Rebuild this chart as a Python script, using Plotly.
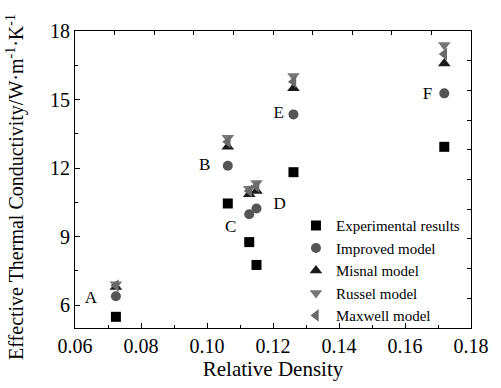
import plotly.graph_objects as go

density = [0.0724, 0.1063, 0.1128, 0.1150, 0.1262, 0.1719]
experimental = [5.49, 10.45, 8.76, 7.76, 11.82, 12.93]
improved = [6.39, 12.10, 9.98, 10.23, 14.35, 15.27]
misnal = [6.80, 12.93, 10.85, 11.00, 15.49, 16.58]
russel = [6.92, 13.33, 11.10, 11.35, 16.03, 17.39]
maxwell = [6.86, 13.15, 11.00, 11.20, 15.78, 16.99]

point_labels = ["A", "B", "C", "D", "E", "F"]
label_x = [0.0648, 0.0993, 0.1072, 0.1220, 0.1217, 0.1668]
label_y = [6.27, 12.10, 9.38, 10.41, 14.40, 15.23]

FONT = "Liberation Serif, Times New Roman, serif"

fig = go.Figure()
series = [
    ("Experimental results", experimental, "square", "#000000", 10),
    ("Improved model", improved, "circle", "#555555", 10),
    ("Misnal model", misnal, "triangle-up", "#1a1a1a", 11),
    ("Russel model", russel, "triangle-down", "#777777", 11),
    ("Maxwell model", maxwell, "triangle-left", "#6a6a6a", 11),
]
for name, vals, sym, col, sz in series:
    fig.add_trace(go.Scatter(
        x=density, y=vals, mode="markers", name=name,
        marker=dict(symbol=sym, color=col, size=sz, line=dict(width=0)),
    ))

fig.add_trace(go.Scatter(
    x=label_x, y=label_y, mode="text", text=point_labels,
    textfont=dict(family=FONT, size=17, color="black"),
    showlegend=False, hoverinfo="skip",
))

# invisible trace for the secondary (top/right) tick-only axes
fig.add_trace(go.Scatter(x=[0], y=[0], xaxis="x2", yaxis="y2", mode="markers",
                         marker=dict(opacity=0), showlegend=False, hoverinfo="skip"))

fig.add_annotation(
    text="Effective Thermal Conductivity/W·m<sup>-1</sup>·K<sup>-1</sup>",
    xref="paper", yref="paper", x=-0.149, y=0.475, xanchor="center", yanchor="middle",
    textangle=-90, showarrow=False, font=dict(family=FONT, size=20, color="black"),
)

fig.update_layout(
    width=501, height=388,
    margin=dict(l=75, r=24, t=31, b=60),
    paper_bgcolor="white", plot_bgcolor="white",
    font=dict(family=FONT, size=20, color="black"),
    showlegend=True,
    legend=dict(
        x=0.558, y=0.40, xanchor="left", yanchor="top",
        bgcolor="rgba(0,0,0,0)", font=dict(family=FONT, size=15),
        itemwidth=30, tracegroupgap=0,
    ),
    xaxis=dict(
        range=[0.06, 0.18], dtick=0.02, tick0=0.06, tickformat=".2f",
        ticks="inside", ticklen=5, tickwidth=1, tickcolor="black",
        minor=dict(dtick=0.01, ticks="inside", ticklen=3, tickcolor="black"),
        showline=True, linecolor="black", linewidth=1, showgrid=False, zeroline=False,
        title=dict(text="Relative Density", font=dict(family=FONT, size=21), standoff=4),
        tickfont=dict(family=FONT, size=20),
    ),
    yaxis=dict(
        range=[5, 18], tickvals=[6, 9, 12, 15, 18],
        ticks="inside", ticklen=5, tickwidth=1, tickcolor="black",
        minor=dict(tickvals=[7.5, 10.5, 13.5, 16.5], ticks="inside", ticklen=3, tickcolor="black"),
        showline=True, linecolor="black", linewidth=1, showgrid=False, zeroline=False,
        tickfont=dict(family=FONT, size=20),
    ),
    xaxis2=dict(
        overlaying="x", side="top", range=[0, 10], dtick=1,
        ticks="inside", ticklen=4, tickcolor="black", showticklabels=False,
        showline=True, linecolor="black", linewidth=1, showgrid=False, zeroline=False,
    ),
    yaxis2=dict(
        overlaying="y", side="right", range=[0, 10], dtick=1,
        ticks="inside", ticklen=4, tickcolor="black", showticklabels=False,
        showline=True, linecolor="black", linewidth=1, showgrid=False, zeroline=False,
    ),
)

fig.write_html("out.html")
